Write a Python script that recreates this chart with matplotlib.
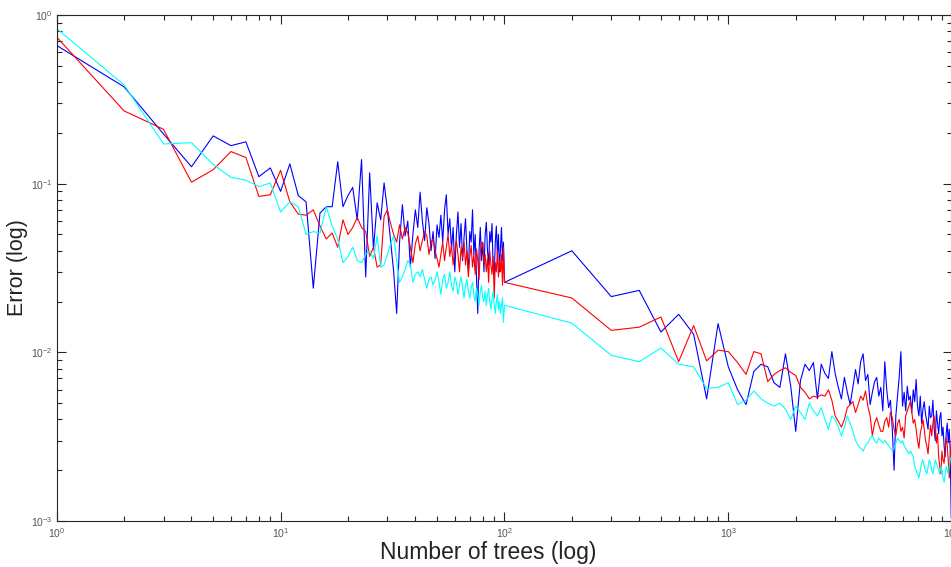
import math
import matplotlib
matplotlib.use("Agg")
import matplotlib.pyplot as plt
from matplotlib.ticker import LogLocator, FuncFormatter, NullFormatter

plt.rcParams['font.family'] = ['Liberation Sans', 'DejaVu Sans']
plt.rcParams['mathtext.fontset'] = 'custom'
plt.rcParams['mathtext.rm'] = 'Liberation Sans'
plt.rcParams['mathtext.it'] = 'Liberation Sans:italic'
plt.rcParams['mathtext.default'] = 'regular'

# number of trees: 1..100 step 1, 200..1000 step 100, 1100..10000 step 100
trees = list(range(1, 101)) + list(range(200, 1001, 100)) + list(range(1100, 10001, 100))

blue = [
    # 1-10
    0.66, 0.375, 0.197, 0.126, 0.192, 0.168, 0.177, 0.110, 0.124, 0.090,
    # 11-20
    0.131, 0.085, 0.078, 0.024, 0.067, 0.073, 0.073, 0.135, 0.073, 0.085,
    # 21-30
    0.095, 0.061, 0.139, 0.028, 0.116, 0.041, 0.077, 0.061, 0.101, 0.070,
    # 31-40
    0.046, 0.030, 0.017, 0.045, 0.075, 0.049, 0.060, 0.032, 0.050, 0.070,
    # 41-50
    0.055, 0.089, 0.060, 0.046, 0.072, 0.058, 0.040, 0.052, 0.036, 0.057,
    # 51-60
    0.048, 0.065, 0.045, 0.070, 0.086, 0.050, 0.062, 0.041, 0.055, 0.030,
    # 61-70
    0.050, 0.068, 0.042, 0.058, 0.035, 0.048, 0.062, 0.040, 0.030, 0.052,
    # 71-80
    0.045, 0.070, 0.038, 0.050, 0.028, 0.017, 0.040, 0.055, 0.035, 0.045,
    # 81-90
    0.030, 0.050, 0.059, 0.040, 0.033, 0.052, 0.045, 0.058, 0.032, 0.028,
    # 91-100
    0.045, 0.056, 0.038, 0.050, 0.030, 0.042, 0.055, 0.035, 0.045, 0.026,
    # 200-1000
    0.040, 0.0214, 0.0233, 0.0132, 0.0168, 0.0128, 0.0053, 0.0148, 0.0082,
    # 1100-2000
    0.0060, 0.0049, 0.0077, 0.0085, 0.0082, 0.0066, 0.0062, 0.0098, 0.0063, 0.0034,
    # 2100-3000
    0.0068, 0.0085, 0.0078, 0.0087, 0.0053, 0.0085, 0.0075, 0.0070, 0.0101, 0.0075,
    # 3100-4000
    0.0062, 0.0053, 0.0071, 0.0058, 0.0049, 0.0062, 0.0079, 0.0065, 0.0088, 0.0098,
    # 4100-5000
    0.0068, 0.0074, 0.0049, 0.0058, 0.0067, 0.0071, 0.0055, 0.0062, 0.0045, 0.0088,
    # 5100-6000
    0.0060, 0.0047, 0.0052, 0.0035, 0.0020, 0.0042, 0.0055, 0.0072, 0.0101, 0.0048,
    # 6100-7000
    0.0058, 0.0045, 0.0063, 0.0052, 0.0055, 0.0044, 0.0060, 0.0051, 0.0069, 0.0048,
    # 7100-8000
    0.0042, 0.0055, 0.0038, 0.0046, 0.0051, 0.0043, 0.0039, 0.0035, 0.0048, 0.0041,
    # 8100-9000
    0.0042, 0.0052, 0.0036, 0.0030, 0.0045, 0.0038, 0.0033, 0.0041, 0.0044, 0.0032,
    # 9100-10000
    0.0036, 0.0028, 0.0024, 0.0033, 0.0038, 0.0029, 0.0035, 0.0026, 0.00104, 0.0030,
]

red = [
    # 1-10
    0.74, 0.27, 0.21, 0.102, 0.121, 0.155, 0.143, 0.084, 0.086, 0.120,
    # 11-20
    0.078, 0.066, 0.065, 0.070, 0.056, 0.047, 0.051, 0.042, 0.061, 0.050,
    # 21-30
    0.055, 0.063, 0.055, 0.052, 0.037, 0.042, 0.032, 0.033, 0.064, 0.070,
    # 31-40
    0.058, 0.050, 0.045, 0.057, 0.047, 0.055, 0.051, 0.042, 0.034, 0.044,
    # 41-50
    0.049, 0.040, 0.046, 0.052, 0.049, 0.038, 0.045, 0.047, 0.040, 0.036,
    # 51-60
    0.032, 0.038, 0.045, 0.035, 0.042, 0.050, 0.037, 0.043, 0.033, 0.040,
    # 61-70
    0.046, 0.038, 0.030, 0.042, 0.036, 0.045, 0.033, 0.040, 0.028, 0.037,
    # 71-80
    0.043, 0.032, 0.038, 0.029, 0.041, 0.035, 0.027, 0.040, 0.045, 0.044,
    # 81-90
    0.034, 0.038, 0.030, 0.036, 0.026, 0.040, 0.033, 0.029, 0.037, 0.021,
    # 91-100
    0.034, 0.030, 0.040, 0.028, 0.035, 0.030, 0.038, 0.025, 0.042, 0.026,
    # 200-1000
    0.021, 0.0135, 0.0141, 0.0162, 0.0088, 0.0144, 0.0089, 0.0103, 0.0101,
    # 1100-2000
    0.0087, 0.0074, 0.0101, 0.0098, 0.0067, 0.0074, 0.0078, 0.0081, 0.0076, 0.0073,
    # 2100-3000
    0.0062, 0.0058, 0.0053, 0.0055, 0.0054, 0.0056, 0.0055, 0.0060, 0.0052, 0.0042,
    # 3100-4000
    0.0039, 0.0036, 0.0040, 0.0047, 0.0049, 0.0051, 0.0044, 0.0049, 0.0055, 0.0052,
    # 4100-5000
    0.0059, 0.0048, 0.0042, 0.0032, 0.0038, 0.0041, 0.0037, 0.0034, 0.0034, 0.0039,
    # 5100-6000
    0.0041, 0.0036, 0.0044, 0.0041, 0.0035, 0.0032, 0.0038, 0.0040, 0.0034, 0.0036,
    # 6100-7000
    0.0031, 0.0042, 0.0045, 0.0048, 0.0051, 0.0044, 0.0038, 0.0040, 0.0035, 0.0030,
    # 7100-8000
    0.0027, 0.0033, 0.0036, 0.0040, 0.0035, 0.0030, 0.0028, 0.0025, 0.0031, 0.0037,
    # 8100-9000
    0.0032, 0.0038, 0.0042, 0.0036, 0.0029, 0.0033, 0.0024, 0.0021, 0.0019, 0.0026,
    # 9100-10000
    0.0023, 0.0022, 0.0027, 0.0031, 0.0028, 0.0023, 0.0018, 0.0024, 0.0029, 0.0025,
]

cyan = [
    # 1-10
    0.83, 0.385, 0.172, 0.175, 0.130, 0.109, 0.105, 0.096, 0.101, 0.068,
    # 11-20
    0.078, 0.073, 0.050, 0.052, 0.051, 0.073, 0.056, 0.047, 0.034, 0.037,
    # 21-30
    0.042, 0.035, 0.034, 0.038, 0.040, 0.036, 0.049, 0.032, 0.033, 0.038,
    # 31-40
    0.044, 0.049, 0.035, 0.026, 0.028, 0.031, 0.035, 0.033, 0.026, 0.029,
    # 41-50
    0.030, 0.028, 0.031, 0.027, 0.024, 0.027, 0.028, 0.025, 0.027, 0.030,
    # 51-60
    0.026, 0.022, 0.027, 0.029, 0.024, 0.026, 0.030, 0.025, 0.023, 0.028,
    # 61-70
    0.026, 0.022, 0.025, 0.028, 0.024, 0.021, 0.025, 0.027, 0.023, 0.021,
    # 71-80
    0.024, 0.026, 0.022, 0.020, 0.024, 0.022, 0.019, 0.023, 0.025, 0.021,
    # 81-90
    0.020, 0.023, 0.019, 0.022, 0.024, 0.020, 0.018, 0.021, 0.023, 0.019,
    # 91-100
    0.017, 0.020, 0.022, 0.018, 0.020, 0.017, 0.019, 0.021, 0.015, 0.019,
    # 200-1000
    0.0149, 0.0096, 0.0088, 0.0106, 0.0085, 0.0082, 0.0061, 0.0062, 0.0066,
    # 1100-2000
    0.0049, 0.0052, 0.0059, 0.0053, 0.0050, 0.0048, 0.0050, 0.0046, 0.0040, 0.0048,
    # 2100-3000
    0.0044, 0.0040, 0.0050, 0.0045, 0.0042, 0.0047, 0.0040, 0.0035, 0.0042, 0.0040,
    # 3100-4000
    0.0036, 0.0032, 0.0036, 0.0042, 0.0038, 0.0034, 0.0030, 0.0028, 0.0027, 0.0026,
    # 4100-5000
    0.0028, 0.0029, 0.0031, 0.0032, 0.0030, 0.0029, 0.0031, 0.0030, 0.0029, 0.0030,
    # 5100-6000
    0.0029, 0.0028, 0.0027, 0.0026, 0.0027, 0.0029, 0.0031, 0.0030, 0.0029, 0.0030,
    # 6100-7000
    0.0028, 0.0027, 0.0026, 0.0025, 0.0026, 0.0025, 0.0024, 0.0021, 0.0020, 0.0019,
    # 7100-8000
    0.0018, 0.0020, 0.0022, 0.0023, 0.0021, 0.0020, 0.0019, 0.0021, 0.0023, 0.0022,
    # 8100-9000
    0.0020, 0.0019, 0.0021, 0.0023, 0.0022, 0.0021, 0.0020, 0.0019, 0.0021, 0.0020,
    # 9100-10000
    0.0018, 0.0017, 0.0019, 0.0021, 0.0020, 0.0019, 0.0021, 0.0023, 0.0024, 0.0022,
]

assert len(trees) == len(blue) == len(red) == len(cyan), (len(trees), len(blue), len(red), len(cyan))

fig = plt.figure(figsize=(9.51, 5.67), dpi=100)
ax = fig.add_axes([56.7 / 951, 46 / 567, 895.5 / 951, 506 / 567])

ax.plot(trees, blue, color=(0, 0, 1), lw=0.8)
ax.plot(trees, red, color=(1, 0, 0), lw=0.8)
ax.plot(trees, cyan, color=(0, 1, 1), lw=0.8)

ax.set_xscale('log')
ax.set_yscale('log')
ax.set_xlim(1, 10000)
ax.set_ylim(1e-3, 1)

ax.xaxis.set_major_locator(LogLocator(base=10, numticks=10))
ax.yaxis.set_major_locator(LogLocator(base=10, numticks=10))
ax.xaxis.set_minor_locator(LogLocator(base=10, subs=range(2, 10), numticks=20))
ax.yaxis.set_minor_locator(LogLocator(base=10, subs=range(2, 10), numticks=20))
fmt = FuncFormatter(lambda v, p: r'$10^{%d}$' % round(math.log10(v)))
ax.xaxis.set_major_formatter(fmt)
ax.yaxis.set_major_formatter(fmt)
ax.xaxis.set_minor_formatter(NullFormatter())
ax.yaxis.set_minor_formatter(NullFormatter())

ax.tick_params(which='both', direction='in', top=True, right=True,
               colors='#262626', labelcolor='#555555', labelsize=7.5, width=0.8)
ax.tick_params(which='major', length=6.5)
ax.tick_params(which='minor', length=3.5)
ax.tick_params(axis='x', pad=4)
ax.tick_params(axis='y', pad=3)

for s in ax.spines.values():
    s.set_color('#262626')
    s.set_linewidth(0.8)
ax.spines['right'].set_visible(False)

ax.set_xlabel('Number of trees (log)', fontsize=16.5, color='#222222')
ax.set_ylabel('Error (log)', fontsize=15.5, color='#222222')
ax.xaxis.set_label_coords((488 - 56.7) / 895.5, -(541 - 521) / 506)
ax.yaxis.set_label_coords(-(56.7 - 28) / 895.5, 0.5)

fig.savefig('out.png', dpi=100, facecolor='white')
